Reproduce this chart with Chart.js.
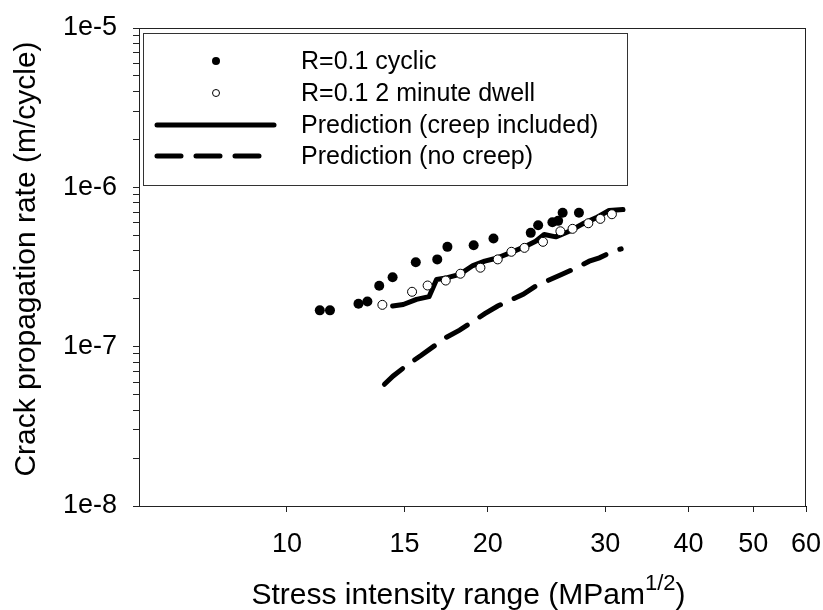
<!DOCTYPE html>
<html>
<head>
<meta charset="utf-8">
<script src="https://cdn.jsdelivr.net/npm/chart.js@4"></script>
<style>
html,body{margin:0;padding:0;background:#fff;}
#wrap{width:823px;height:610px;position:relative;}
</style>
</head>
<body>
<div id="wrap"><canvas id="crack"></canvas></div>
<script>
// R=0.1 cyclic (filled dots)
const cyclicK = [11.2, 11.6, 12.8, 13.2, 13.75, 14.4, 15.6, 16.8, 17.4, 19.05, 20.4, 23.2, 23.8, 25.0, 25.5, 25.9, 27.4];
const cyclicRate = [1.69e-7, 1.69e-7, 1.86e-7, 1.92e-7, 2.41e-7, 2.73e-7, 3.39e-7, 3.53e-7, 4.23e-7, 4.33e-7, 4.77e-7, 5.18e-7, 5.78e-7, 6.04e-7, 6.16e-7, 6.92e-7, 6.92e-7];

// R=0.1 2 minute dwell (open circles)
const dwellK = [13.9, 15.4, 16.25, 17.3, 18.2, 19.5, 20.7, 21.7, 22.7, 24.2, 25.7, 26.8, 28.3, 29.5, 30.7];
const dwellRate = [1.83e-7, 2.21e-7, 2.42e-7, 2.60e-7, 2.87e-7, 3.13e-7, 3.53e-7, 3.94e-7, 4.17e-7, 4.55e-7, 5.30e-7, 5.49e-7, 5.95e-7, 6.34e-7, 6.78e-7];

// prediction, creep included (solid)
const creepK = [14.4, 14.94, 15.64, 16.33, 16.76, 17.4, 18.15, 19.0, 19.79, 20.6, 21.6, 22.8, 23.6, 24.3, 25.3, 26.5, 27.75, 29.05, 30.4, 31.9];
const creepRate = [1.80e-7, 1.84e-7, 1.98e-7, 2.06e-7, 2.64e-7, 2.71e-7, 2.84e-7, 3.23e-7, 3.44e-7, 3.59e-7, 3.88e-7, 4.27e-7, 4.59e-7, 5.06e-7, 4.89e-7, 5.30e-7, 5.90e-7, 6.43e-7, 7.15e-7, 7.25e-7];

// prediction, no creep (dashed)
const noCreepK = [14.0, 14.43, 15.2, 15.9, 17.3, 18.15, 19.8, 20.7, 22.6, 23.6, 25.8, 26.8, 28.4, 29.4, 30.8, 31.7];
const noCreepRate = [5.81e-8, 6.55e-8, 7.76e-8, 8.83e-8, 1.14e-7, 1.27e-7, 1.61e-7, 1.80e-7, 2.13e-7, 2.40e-7, 2.84e-7, 3.05e-7, 3.44e-7, 3.61e-7, 3.97e-7, 4.11e-7];

const xTicks = [10, 15, 20, 30, 40, 50, 60];
const yDecades = [1e-8, 1e-7, 1e-6, 1e-5];
const yTickLabels = ['1e-8', '1e-7', '1e-6', '1e-5'];
const legendLabels = ['R=0.1 cyclic', 'R=0.1 2 minute dwell', 'Prediction (creep included)', 'Prediction (no creep)'];

const FONT = "'Liberation Sans', Arial, sans-serif";
Chart.defaults.color = '#000';
Chart.defaults.font.family = FONT;

function pts(xs, ys) {
  return xs.map((x, i) => ({x: x, y: ys[i]}));
}

// frame, legend box and axis titles
const extras = {
  id: 'extras',
  afterDraw(chart) {
    const ctx = chart.ctx;
    const a = chart.chartArea;
    ctx.save();
    ctx.strokeStyle = '#222';
    ctx.lineWidth = 1;
    ctx.strokeRect(a.left + 0.5, a.top + 0.5, a.right - a.left - 1, a.bottom - a.top);

    // legend
    const bx = 143, by = 33, bw = 484, bh = 152;
    ctx.fillStyle = '#fff';
    ctx.fillRect(bx, by, bw, bh);
    ctx.strokeStyle = '#333';
    ctx.strokeRect(bx + 0.5, by + 0.5, bw, bh);
    const rows = [61, 93, 125, 156];
    ctx.fillStyle = '#000';
    ctx.beginPath();
    ctx.arc(216, rows[0], 4, 0, Math.PI * 2);
    ctx.fill();
    ctx.beginPath();
    ctx.arc(216, rows[1], 3.5, 0, Math.PI * 2);
    ctx.lineWidth = 1;
    ctx.strokeStyle = '#000';
    ctx.stroke();
    ctx.lineWidth = 5;
    ctx.lineCap = 'round';
    ctx.beginPath();
    ctx.moveTo(157, rows[2]);
    ctx.lineTo(274, rows[2]);
    ctx.stroke();
    ctx.setLineDash([24, 15]);
    ctx.beginPath();
    ctx.moveTo(157, rows[3]);
    ctx.lineTo(260, rows[3]);
    ctx.stroke();
    ctx.setLineDash([]);
    ctx.font = '25px ' + FONT;
    ctx.textBaseline = 'middle';
    ctx.textAlign = 'left';
    legendLabels.forEach((t, i) => ctx.fillText(t, 301, rows[i] + 1));

    // x title with superscript
    const main = 'Stress intensity range (MPam';
    ctx.font = '30px ' + FONT;
    const w1 = ctx.measureText(main).width;
    const w3 = ctx.measureText(')').width;
    ctx.font = '22px ' + FONT;
    const w2 = ctx.measureText('1/2').width;
    const total = w1 + w2 + w3;
    let x0 = (a.left + a.right) / 2 - 4 - total / 2;
    ctx.textBaseline = 'alphabetic';
    ctx.font = '30px ' + FONT;
    ctx.fillText(main, x0, 604);
    ctx.font = '22px ' + FONT;
    ctx.fillText('1/2', x0 + w1, 590);
    ctx.font = '30px ' + FONT;
    ctx.fillText(')', x0 + w1 + w2, 604);

    // y title
    ctx.translate(27, (a.top + a.bottom) / 2 - 8);
    ctx.rotate(-Math.PI / 2);
    ctx.textAlign = 'center';
    ctx.textBaseline = 'middle';
    ctx.fillText('Crack propagation rate (m/cycle)', 0, 0);
    ctx.restore();
  }
};

new Chart(document.getElementById('crack'), {
  type: 'scatter',
  data: {
    datasets: [
      {
        label: legendLabels[0],
        data: pts(cyclicK, cyclicRate),
        pointRadius: 5,
        pointBackgroundColor: '#000',
        pointBorderColor: '#000',
        pointBorderWidth: 0
      },
      {
        label: legendLabels[1],
        data: pts(dwellK, dwellRate),
        pointRadius: 4.5,
        pointBackgroundColor: '#fff',
        pointBorderColor: '#000',
        pointBorderWidth: 1
      },
      {
        label: legendLabels[2],
        data: pts(creepK, creepRate),
        showLine: true,
        pointRadius: 0,
        borderColor: '#000',
        borderWidth: 5,
        borderJoinStyle: 'round',
        borderCapStyle: 'round'
      },
      {
        label: legendLabels[3],
        data: pts(noCreepK, noCreepRate),
        showLine: true,
        pointRadius: 0,
        borderColor: '#000',
        borderWidth: 5,
        borderDash: [24, 15],
        borderCapStyle: 'round'
      }
    ]
  },
  options: {
    responsive: true,
    maintainAspectRatio: false,
    animation: false,
    devicePixelRatio: 1,
    layout: {padding: {top: 28, right: 17, left: 0, bottom: 0}},
    plugins: {legend: {display: false}, tooltip: {enabled: false}},
    scales: {
      x: {
        type: 'logarithmic',
        min: 6,
        max: 60,
        afterFit(s) { s.height = 104; s.paddingLeft = 0; s.paddingRight = 0; },
        afterBuildTicks(s) { s.ticks = xTicks.map(v => ({value: v})); },
        ticks: {
          autoSkip: false,
          maxRotation: 0,
          padding: 16,
          font: {size: 27},
          callback: v => String(v)
        },
        grid: {drawOnChartArea: false, drawTicks: true, tickLength: 6, color: '#222'},
        border: {display: true, color: '#000'}
      },
      y: {
        type: 'logarithmic',
        min: 1e-8,
        max: 1e-5,
        afterFit(s) { s.width = 139; s.paddingTop = 0; s.paddingBottom = 0; },
        afterBuildTicks(s) {
          const t = [];
          for (let d = 0; d < yDecades.length - 1; d++) {
            for (let m = 1; m < 10; m++) t.push({value: m * yDecades[d]});
          }
          t.push({value: yDecades[yDecades.length - 1]});
          s.ticks = t;
        },
        ticks: {
          autoSkip: false,
          padding: 16,
          font: {size: 27},
          callback: (v, i) => (i % 9 === 0 ? yTickLabels[i / 9] : '')
        },
        grid: {drawOnChartArea: false, drawTicks: true, tickLength: 6, color: '#222'},
        border: {display: true, color: '#000'}
      }
    }
  },
  plugins: [extras]
});
</script>
</body>
</html>
